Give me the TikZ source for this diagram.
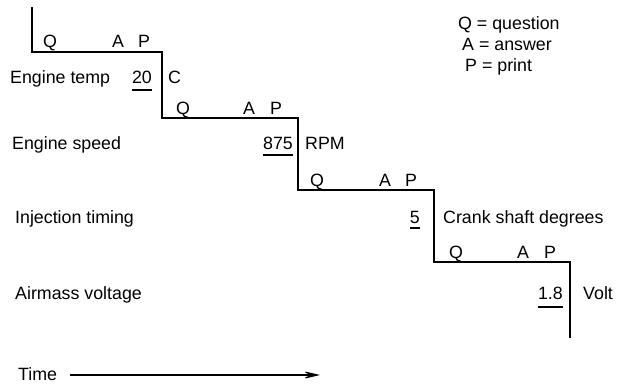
\documentclass[tikz,border=0pt]{standalone}
\usepackage{fontspec}
\setmainfont{Liberation Sans}
\usetikzlibrary{arrows.meta}
\begin{document}
\begin{tikzpicture}[x=1pt,y=-1pt,
  txt/.style={font=\fontsize{17.8}{20}\selectfont, inner sep=0pt},
  lbl/.style={txt, anchor=base west},
  qap/.style={txt, anchor=base},
  val/.style={txt, anchor=base east},
  stair/.style={line width=1.3pt, line join=miter},
  uline/.style={line width=1.3pt},
  timearrow/.style={line width=1.1pt, -{Stealth[length=21pt,width=10pt,inset=12pt]}}]
\useasboundingbox (0,0) rectangle (617,387);

% staircase of question / answer / print steps
\draw[stair] (32,7) -- (32,52) -- (162,52) -- (162,118) -- (298,118)
  -- (298,190) -- (434,190) -- (434,262) -- (570,262) -- (570,338);

% legend
\node[lbl] (lq) at (458,30) {Q = question};
\node[lbl] (la) at (462,51) {A = answer};
\node[lbl] (lp) at (465,72) {P = print};

% step 1
\node[qap] (q1) at (50,48) {Q};
\node[qap] (a1) at (118,48) {A};
\node[qap] (p1) at (144,48) {P};
\node[lbl] (n1) at (10,84) {Engine temp};
\node[val] (v1) at (152,84) {20};
\node[lbl] (u1) at (168,84) {C};

% step 2
\node[qap] (q2) at (183,115) {Q};
\node[qap] (a2) at (249,115) {A};
\node[qap] (p2) at (276,115) {P};
\node[lbl] (n2) at (12,150) {Engine speed};
\node[val] (v2) at (293,150) {875};
\node[lbl] (u2) at (305,150) {RPM};

% step 3
\node[qap] (q3) at (317,186) {Q};
\node[qap] (a3) at (385,186) {A};
\node[qap] (p3) at (411,186) {P};
\node[lbl] (n3) at (15,223) {Injection timing};
\node[val] (v3) at (420,223) {5};
\node[lbl] (u3) at (443,223) {Crank shaft degrees};

% step 4
\node[qap] (q4) at (456,258) {Q};
\node[qap] (a4) at (523,258) {A};
\node[qap] (p4) at (550,258) {P};
\node[lbl] (n4) at (15,299) {Airmass voltage};
\node[val] (v4) at (563,299) {1.8};
\node[lbl] (u4) at (583,299) {Volt};

% underlined values
\foreach \v/\d in {v1/6, v2/5, v3/5, v4/8}
  \draw[uline] ([yshift=-\d pt]\v.base west) -- ([yshift=-\d pt]\v.base east);

% time axis
\node[lbl] (time) at (18,380) {Time};
\coordinate (tstart) at (70,375);
\coordinate (tend) at (320,375);
\draw[timearrow] (tstart) -- (tend);
\end{tikzpicture}
\end{document}
